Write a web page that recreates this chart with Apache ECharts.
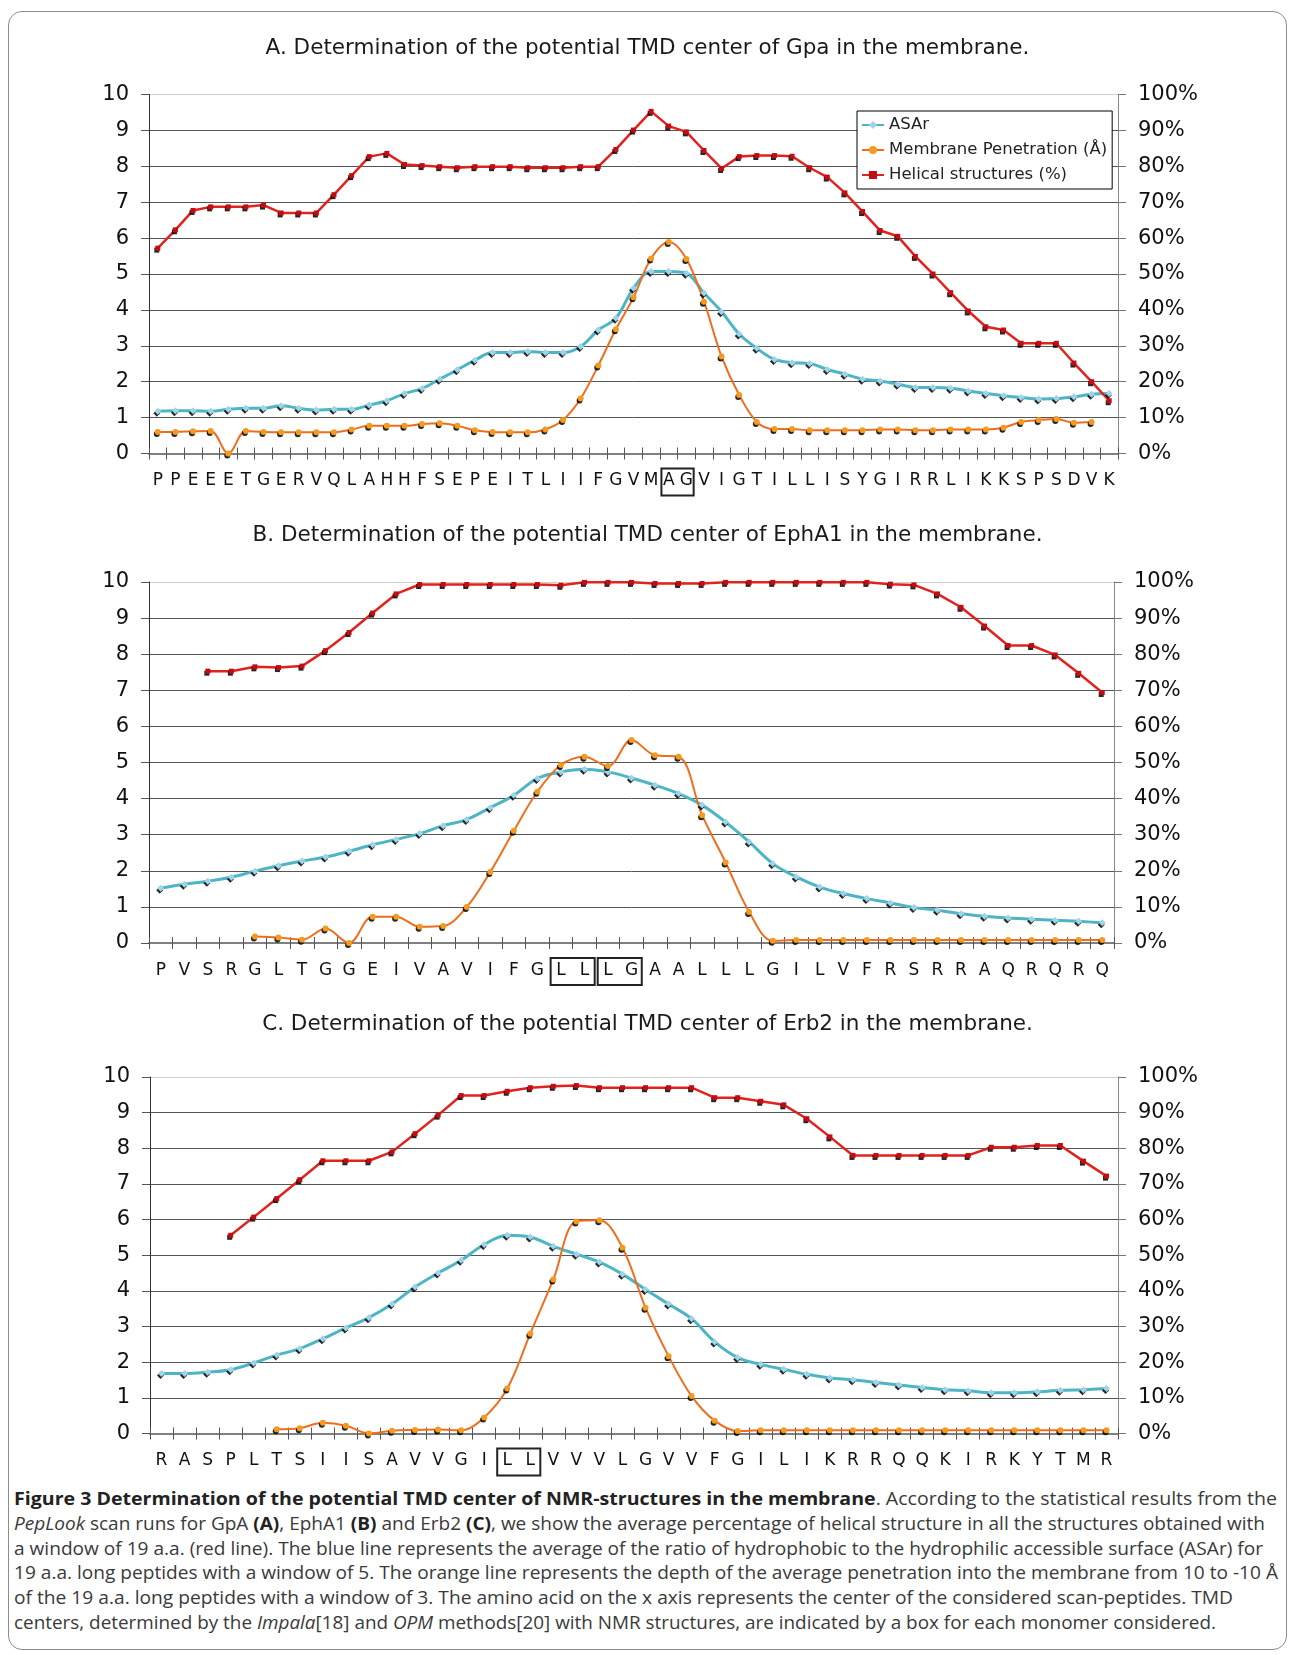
<!DOCTYPE html>
<html>
<head>
<meta charset="utf-8">
<script src="https://cdn.jsdelivr.net/npm/echarts@6/dist/echarts.min.js"></script>
<style>
html, body { margin: 0; padding: 0; background: #fff; }
#frame { position: absolute; left: 8px; top: 11px; width: 1279px; height: 1639px; border: 1.5px solid #8c8c8c; border-radius: 14px; box-sizing: border-box; }
#chart { position: absolute; left: 0; top: 0; width: 1295px; height: 1480px; }
#caption { position: absolute; left: 14px; top: 1486px; font-family: "Open Sans", "Noto Sans", sans-serif; font-size: 18px; line-height: 24.8px; color: #3a3a3a; white-space: nowrap; }
#caption > div { transform-origin: 0 0; }
#caption span { display: inline-block; }
#caption b { color: #222; }
</style>
</head>
<body>
<div id="frame"></div>
<div id="chart"></div>
<div id="caption">
<div><span><b>Figure 3 Determination of the potential TMD center of NMR-structures in the membrane</b>. According to the statistical results from the</span></div>
<div><span><i>PepLook</i> scan runs for GpA <b>(A)</b>, EphA1 <b>(B)</b> and Erb2 <b>(C)</b>, we show the average percentage of helical structure in all the structures obtained with</span></div>
<div><span>a window of 19 a.a. (red line). The blue line represents the average of the ratio of hydrophobic to the hydrophilic accessible surface (ASAr) for</span></div>
<div><span>19 a.a. long peptides with a window of 5. The orange line represents the depth of the average penetration into the membrane from 10 to -10 Å</span></div>
<div><span>of the 19 a.a. long peptides with a window of 3. The amino acid on the x axis represents the center of the considered scan-peptides. TMD</span></div>
<div><span>centers, determined by the <i>Impala</i>[18] and <i>OPM</i> methods[20] with NMR structures, are indicated by a box for each monomer considered.</span></div>
</div>
<script>
// --- chart A : GpA
var catA = ['P','P','E','E','E','T','G','E','R','V','Q','L','A','H','H','F','S','E','P','E','I','T','L','I','I','F','G','V','M','A','G','V','I','G','T','I','L','L','I','S','Y','G','I','R','R','L','I','K','K','S','P','S','D','V','K'];
var asarA = [1.18,1.19,1.19,1.18,1.23,1.26,1.26,1.33,1.26,1.21,1.23,1.23,1.35,1.47,1.67,1.81,2.07,2.33,2.60,2.81,2.81,2.84,2.81,2.81,2.98,3.44,3.77,4.60,5.07,5.07,5.02,4.47,3.95,3.33,2.93,2.62,2.53,2.51,2.34,2.21,2.07,2.02,1.93,1.84,1.84,1.82,1.74,1.67,1.61,1.56,1.52,1.53,1.58,1.65,1.67];
var penA = [0.60,0.60,0.62,0.63,0,0.63,0.60,0.59,0.59,0.59,0.59,0.67,0.77,0.77,0.77,0.82,0.84,0.77,0.65,0.60,0.59,0.59,0.67,0.93,1.53,2.45,3.46,4.35,5.43,5.89,5.42,4.23,2.70,1.63,0.88,0.68,0.68,0.65,0.65,0.65,0.65,0.67,0.67,0.65,0.65,0.67,0.67,0.67,0.72,0.88,0.93,0.96,0.86,0.88,null];
var helixA = [57.2,62.3,67.7,68.7,68.7,68.7,69.2,67.0,67.0,67.0,72.1,77.4,82.7,83.6,80.5,80.2,79.9,79.6,79.9,79.9,79.9,79.6,79.6,79.6,79.9,79.9,84.7,90.1,95.3,91.2,89.6,84.4,79.4,82.7,83.0,83.0,82.8,79.6,77.0,72.6,67.4,62.1,60.5,54.9,50.0,44.8,39.7,35.3,34.4,30.7,30.7,30.7,25.2,20.0,14.7];
var boxA = [[29, 30]];

// --- chart B : EphA1
var catB = ['P','V','S','R','G','L','T','G','G','E','I','V','A','V','I','F','G','L','L','L','G','A','A','L','L','L','G','I','L','V','F','R','S','R','R','A','Q','R','Q','R','Q'];
var asarB = [1.52,1.63,1.71,1.82,1.99,2.14,2.27,2.38,2.54,2.72,2.87,3.03,3.25,3.42,3.75,4.09,4.56,4.74,4.81,4.74,4.57,4.37,4.14,3.82,3.35,2.80,2.20,1.83,1.55,1.37,1.23,1.11,0.98,0.91,0.81,0.74,0.69,0.66,0.63,0.60,0.56];
var penB = [null,null,null,null,0.18,0.15,0.09,0.40,0.0,0.73,0.73,0.45,0.47,1.0,1.97,3.11,4.19,4.93,5.16,4.90,5.62,5.20,5.16,3.54,2.23,0.86,0.06,0.08,0.08,0.08,0.08,0.08,0.08,0.08,0.08,0.08,0.08,0.08,0.08,0.08,0.08];
var helixB = [null,null,75.3,75.3,76.5,76.3,76.7,81.0,86.0,91.4,96.7,99.3,99.3,99.3,99.3,99.3,99.3,99.1,99.9,99.9,99.9,99.6,99.6,99.6,99.9,99.9,99.9,99.9,99.9,99.9,99.9,99.4,99.2,96.7,93.0,87.8,82.4,82.4,79.8,74.7,69.4];
var boxB = [[17, 18], [19, 20]];

// --- chart C : Erb2
var catC = ['R','A','S','P','L','T','S','I','I','S','A','V','V','G','I','L','L','V','V','V','L','G','V','V','F','G','I','L','I','K','R','R','Q','Q','K','I','R','K','Y','T','M','R'];
var asarC = [1.68,1.68,1.72,1.79,1.98,2.20,2.38,2.66,2.96,3.25,3.63,4.11,4.50,4.86,5.30,5.56,5.51,5.25,5.03,4.81,4.47,4.04,3.63,3.22,2.57,2.13,1.94,1.80,1.66,1.56,1.51,1.43,1.36,1.29,1.23,1.20,1.14,1.14,1.17,1.21,1.23,1.26];
var penC = [null,null,null,null,null,0.12,0.15,0.30,0.22,0.0,0.08,0.10,0.11,0.09,0.45,1.26,2.80,4.32,5.95,5.98,5.21,3.53,2.17,1.05,0.36,0.07,0.09,0.09,0.09,0.09,0.09,0.09,0.09,0.09,0.09,0.09,0.09,0.09,0.09,0.09,0.09,0.09];
var helixC = [null,null,null,55.6,60.7,65.9,71.2,76.5,76.5,76.5,79.0,84.1,89.3,94.8,94.8,96.0,97.0,97.4,97.6,97.0,97.0,97.0,97.0,97.0,94.2,94.2,93.2,92.2,88.3,83.2,78.0,78.0,78.0,78.0,78.0,78.0,80.3,80.3,80.8,80.8,76.4,72.2];
var boxC = [[15, 16]];

var titles = [
    'A. Determination of the potential TMD center of Gpa in the membrane.',
    'B. Determination of the potential TMD center of EphA1 in the membrane.',
    'C. Determination of the potential TMD center of Erb2 in the membrane.'
];
var seriesNames = ['ASAr', 'Membrane Penetration (Å)', 'Helical structures (%)'];

var FONT = 'DejaVu Sans';
var panels = [
    {cats: catA, asar: asarA, pen: penA, helix: helixA, boxes: boxA, grid: {left: 149, right: 177, top: 94.5, height: 359}, titleTop: 32},
    {cats: catB, asar: asarB, pen: penB, helix: helixB, boxes: boxB, grid: {left: 149, right: 181, top: 582, height: 361}, titleTop: 519},
    {cats: catC, asar: asarC, pen: penC, helix: helixC, boxes: boxC, grid: {left: 150, right: 177, top: 1077, height: 356.5}, titleTop: 1008}
];

var gridColors = ['#8a8a8a','#555','#555','#555','#555','#555','#555','#555','#555','#555','#cfcfcf'];
var dotShadow = {shadowColor: 'rgba(0,0,0,0.85)', shadowOffsetX: -1, shadowOffsetY: 2, shadowBlur: 0};

var option = {
    animation: false,
    title: [], grid: [], xAxis: [], yAxis: [], series: [],
    legend: {
        orient: 'vertical', left: 857, top: 111,
        data: seriesNames,
        itemWidth: 22, itemHeight: 10, itemGap: 5,
        padding: [4, 5, 4, 4],
        borderColor: '#000', borderWidth: 1, backgroundColor: '#fff',
        textStyle: {fontFamily: FONT, fontSize: 16.5, color: '#222', lineHeight: 20}
    }
};

panels.forEach(function(p, g) {
    option.title.push({
        text: titles[g], left: 'center', top: p.titleTop,
        textStyle: {fontFamily: FONT, fontSize: 21.5, fontWeight: 'normal', color: '#1a1a1a'}
    });
    option.grid.push(p.grid);
    option.xAxis.push({
        type: 'category', gridIndex: g, position: 'bottom', data: p.cats, boundaryGap: true,
        axisLine: {lineStyle: {color: '#808080', width: 2}},
        axisTick: {show: true, interval: 0, length: 6, lineStyle: {color: '#555'}},
        axisLabel: {interval: 0, margin: 19, fontFamily: FONT, fontSize: 17, color: '#111'},
        splitLine: {show: false}
    });
    option.xAxis.push({
        type: 'category', gridIndex: g, position: 'bottom', data: p.cats, boundaryGap: true,
        axisLine: {show: false},
        axisTick: {show: true, inside: true, interval: 0, length: 6, lineStyle: {color: '#555'}},
        axisLabel: {show: false}, splitLine: {show: false}
    });
    option.yAxis.push({
        type: 'value', gridIndex: g, position: 'left', min: 0, max: 10, interval: 1,
        axisLine: {show: true, lineStyle: {color: '#333', width: 1}},
        axisTick: {show: true, length: 8, lineStyle: {color: '#555'}},
        axisLabel: {margin: 20, fontFamily: FONT, fontSize: 21, color: '#111'},
        splitLine: {show: true, lineStyle: {color: gridColors, width: 1}}
    });
    option.yAxis.push({
        type: 'value', gridIndex: g, position: 'right', min: 0, max: 100, interval: 10,
        axisLine: {show: true, lineStyle: {color: '#888', width: 1}},
        axisTick: {show: true, length: 8, lineStyle: {color: '#777'}},
        axisLabel: {margin: 20, formatter: '{value}%', fontFamily: FONT, fontSize: 21, color: '#111'},
        splitLine: {show: false}
    });
    option.series.push({
        name: seriesNames[0], type: 'line', xAxisIndex: 2 * g, yAxisIndex: 2 * g,
        data: p.asar, smooth: 0.35, symbol: 'diamond', symbolSize: 7,
        lineStyle: {color: '#4db5c3', width: 3},
        itemStyle: Object.assign({color: '#9fd3ea'}, dotShadow)
    });
    option.series.push({
        name: seriesNames[1], type: 'line', xAxisIndex: 2 * g, yAxisIndex: 2 * g,
        data: p.pen, smooth: 0.35, symbol: 'circle', symbolSize: 6,
        lineStyle: {color: '#ef6e1e', width: 2},
        itemStyle: Object.assign({color: '#f59a1c'}, dotShadow)
    });
    option.series.push({
        name: seriesNames[2], type: 'line', xAxisIndex: 2 * g, yAxisIndex: 2 * g + 1,
        data: p.helix, symbol: 'rect', symbolSize: 5,
        lineStyle: {color: '#e2221f', width: 2.5},
        itemStyle: Object.assign({color: '#c40d12'}, dotShadow)
    });
});

var chart = echarts.init(document.getElementById('chart'));
chart.setOption(option);

// boxes round the TMD centre letters, placed from the axes
var rects = [];
panels.forEach(function(p, g) {
    var x0 = chart.convertToPixel({xAxisIndex: 2 * g}, 0);
    var x1 = chart.convertToPixel({xAxisIndex: 2 * g}, 1);
    var w = x1 - x0;
    var y0 = chart.convertToPixel({yAxisIndex: 2 * g}, 0);
    p.boxes.forEach(function(b) {
        var xa = chart.convertToPixel({xAxisIndex: 2 * g}, b[0]);
        var xb = chart.convertToPixel({xAxisIndex: 2 * g}, b[1]);
        rects.push({
            type: 'rect',
            shape: {x: xa - w / 2 + 1.5, y: y0 + 15, width: xb - xa + w - 3, height: 27},
            style: {fill: 'none', stroke: '#222', lineWidth: 2}
        });
    });
});
chart.setOption({graphic: rects});

// squeeze each caption line to the narrow face of the original
var lineWidths = [1263, 1251, 1249, 1264, 1219, 1202];
var lines = document.querySelectorAll('#caption > div');
lines.forEach(function(el, i) {
    var w = el.firstElementChild.getBoundingClientRect().width;
    el.style.transform = 'scaleX(' + (lineWidths[i] / w) + ')';
});
</script>
</body>
</html>
